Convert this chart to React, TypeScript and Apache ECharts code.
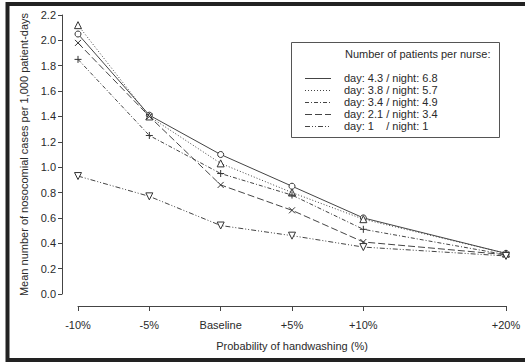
import React, { useEffect, useRef } from "react";
import * as echarts from "echarts";

const xValues = [-10, -5, 0, 5, 10, 20];
const xTickLabels = ["-10%", "-5%", "Baseline", "+5%", "+10%", "+20%"];

const seriesNames = [
  "day: 4.3 / night: 6.8",
  "day: 3.8 / night: 5.7",
  "day: 3.4 / night: 4.9",
  "day: 2.1 / night: 3.4",
  "day: 1    / night: 1",
];

const s1 = [2.05, 1.41, 1.1, 0.85, 0.6, 0.32];
const s2 = [2.12, 1.4, 1.03, 0.8, 0.59, 0.32];
const s3 = [1.85, 1.25, 0.95, 0.78, 0.51, 0.31];
const s4 = [1.98, 1.4, 0.86, 0.66, 0.41, 0.31];
const s5 = [0.93, 0.77, 0.54, 0.46, 0.37, 0.3];
const seriesValues = [s1, s2, s3, s4, s5];

const dashes: (number[] | null)[] = [
  null,
  [1, 2],
  [4, 2, 1, 2],
  [7, 3],
  [5, 2, 1, 2, 1, 2],
];

const PLUS = "path://M5 0 L5 10 M0 5 L10 5";
const CROSS = "path://M0 0 L10 10 M10 0 L0 10";
const symbols = ["circle", "triangle", PLUS, CROSS, "triangle"];
const symbolRotates = [0, 0, 0, 0, 180];
const symbolSizes = [6, 7, 7, 6, 7];

const FONT = "'Liberation Sans', Arial, Helvetica, sans-serif";
const TEXT = "#2a2a2a";
const LINE = "#444";
const AXIS = "#444";

export default function App() {
  const ref = useRef<HTMLDivElement>(null);
  useEffect(() => {
    if (!ref.current) return;
    const chart = echarts.init(ref.current, undefined, { renderer: "svg" });

    const series = seriesValues.map((vals, i) => ({
      name: seriesNames[i],
      type: "line",
      data: vals.map((v, j) => [xValues[j], v]),
      symbol: symbols[i],
      symbolSize: symbolSizes[i],
      symbolRotate: symbolRotates[i],
      showAllSymbol: true,
      lineStyle: {
        color: LINE,
        width: 1,
        type: dashes[i] ? dashes[i] : "solid",
      },
      itemStyle: { color: "#fff", borderColor: "#333", borderWidth: 1 },
      emphasis: { disabled: true },
      z: 2 + i,
    }));

    const legendX = 291;
    const legendY = 42;
    const legendGraphics: any[] = [
      {
        type: "rect",
        shape: { x: legendX + 0.5, y: legendY + 0.5, width: 208, height: 95 },
        style: { fill: "#fff", stroke: "#555", lineWidth: 1 },
        z: 10,
      },
      {
        type: "text",
        x: 345,
        y: 54,
        style: {
          text: "Number of patients per nurse:",
          font: `11px ${FONT}`,
          fill: TEXT,
          verticalAlign: "middle",
        },
        z: 11,
      },
    ];
    seriesNames.forEach((name, i) => {
      const y = 78 + i * 12;
      legendGraphics.push({
        type: "line",
        shape: { x1: 305, y1: y + 0.5, x2: 331, y2: y + 0.5 },
        style: {
          stroke: LINE,
          lineWidth: 1,
          lineDash: dashes[i] ? dashes[i] : null,
        },
        z: 11,
      });
      legendGraphics.push({
        type: "text",
        x: 344,
        y: y,
        style: {
          text: name,
          font: `11px ${FONT}`,
          fill: TEXT,
          verticalAlign: "middle",
        },
        z: 11,
      });
    });

    chart.setOption({
      animation: false,
      backgroundColor: "#fff",
      grid: {
        left: 78,
        right: 19,
        top: 15,
        bottom: 70,
        containLabel: false,
        outerBoundsMode: "none",
      },
      xAxis: {
        type: "value",
        min: -10,
        max: 20,
        interval: 5,
        offset: 12,
        name: "Probability of handwashing (%)",
        nameLocation: "middle",
        nameGap: 34,
        nameTextStyle: { fontFamily: FONT, fontSize: 11, color: TEXT },
        axisLine: {
          show: true,
          onZero: false,
          lineStyle: { color: AXIS, width: 1 },
        },
        axisTick: {
          show: true,
          length: 5,
          lineStyle: { color: AXIS },
          customValues: xValues,
        },
        axisLabel: {
          fontFamily: FONT,
          fontSize: 11,
          color: TEXT,
          margin: 13,
          customValues: xValues,
          formatter: (v: number) => {
            const idx = xValues.indexOf(v);
            return idx >= 0 ? xTickLabels[idx] : "";
          },
        },
        splitLine: { show: false },
      },
      yAxis: {
        type: "value",
        position: "left",
        min: 0,
        max: 2.2,
        interval: 0.2,
        offset: 16,
        name: "Mean number of nosocomial cases per 1,000 patient-days",
        nameLocation: "middle",
        nameGap: 30,
        nameTextStyle: { fontFamily: FONT, fontSize: 11, color: TEXT },
        axisLine: {
          show: true,
          onZero: false,
          lineStyle: { color: AXIS, width: 1 },
        },
        axisTick: { show: true, length: 4, lineStyle: { color: AXIS } },
        axisLabel: {
          fontFamily: FONT,
          fontSize: 11,
          color: TEXT,
          margin: 6,
          formatter: (v: number) => v.toFixed(1),
        },
        splitLine: { show: false },
      },
      series,
      graphic: [
        {
          type: "rect",
          shape: { x: 7.5, y: 4, width: 540, height: 356 },
          style: { fill: "none", stroke: "#222", lineWidth: 4 },
          z: 20,
          silent: true,
        },
        ...legendGraphics,
      ],
    });
    return () => chart.dispose();
  }, []);
  return (
    <div
      ref={ref}
      style={{
        position: "fixed",
        left: 0,
        top: 0,
        width: 525,
        height: 364,
        background: "#fff",
      }}
    />
  );
}
